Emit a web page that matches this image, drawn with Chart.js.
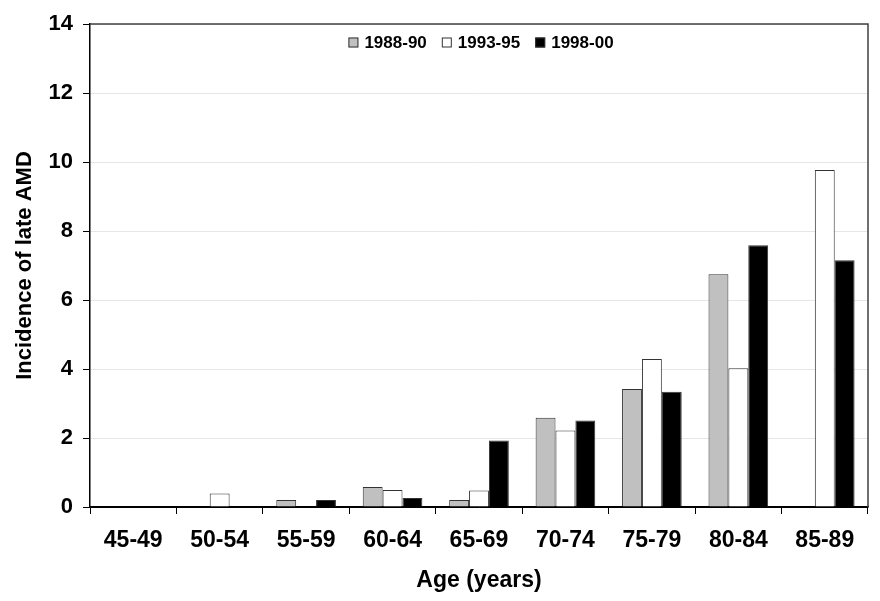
<!DOCTYPE html>
<html>
<head>
<meta charset="utf-8">
<script src="https://cdn.jsdelivr.net/npm/chart.js@4/dist/chart.umd.min.js"></script>
<style>
html,body{margin:0;padding:0;background:#fff;}
#wrap{width:880px;height:601px;position:relative;}
</style>
</head>
<body>
<div id="wrap"><canvas id="c" width="880" height="601"></canvas></div>
<script>
const categories = ["45-49","50-54","55-59","60-64","65-69","70-74","75-79","80-84","85-89"];
const seriesNames = ["1988-90","1993-95","1998-00"];
const s1988 = [0, 0, 0.20, 0.58, 0.20, 2.59, 3.42, 6.75, 0];
const s1993 = [0, 0.39, 0, 0.49, 0.48, 2.22, 4.29, 4.02, 9.77];
const s1998 = [0, 0, 0.20, 0.26, 1.93, 2.51, 3.34, 7.59, 7.15];
const yTicks = [0,2,4,6,8,10,12,14];

const FONT = '"Liberation Sans", Arial, sans-serif';

const frame = {
  id:'frame',
  afterDraw(chart){
    const a = chart.chartArea, ctx = chart.ctx;
    ctx.save();
    ctx.strokeStyle = '#404040';
    ctx.lineWidth = 1.5;
    ctx.beginPath();
    ctx.moveTo(a.left, a.top);
    ctx.lineTo(a.right, a.top);
    ctx.lineTo(a.right, a.bottom);
    ctx.stroke();
    ctx.restore();
  }
};

const insideLegend = {
  id:'insideLegend',
  afterDraw(chart){
    const a = chart.chartArea, ctx = chart.ctx;
    const ds = chart.data.datasets;
    ctx.save();
    ctx.font = 'bold 17px ' + FONT;
    const box = 10, gapText = 6, gapItem = 15;
    const widths = ds.map(d => box + gapText + ctx.measureText(d.label).width);
    const total = widths.reduce((s,w)=>s+w,0) + gapItem*(ds.length-1);
    let x = (a.left + a.right)/2 - total/2 + 2;
    const yc = a.top + 18.5;
    ctx.textBaseline = 'middle';
    ctx.textAlign = 'left';
    ds.forEach((d,i)=>{
      ctx.fillStyle = d.backgroundColor;
      ctx.fillRect(x, yc-box/2, box, box);
      ctx.strokeStyle = '#333';
      ctx.lineWidth = 1;
      ctx.strokeRect(x+0.5, yc-box/2+0.5, box-1, box-1);
      ctx.fillStyle = '#000';
      ctx.fillText(d.label, x + box + gapText, yc+1);
      x += widths[i] + gapItem;
    });
    ctx.restore();
  }
};

new Chart(document.getElementById('c'), {
  type:'bar',
  data:{
    labels:categories,
    datasets:[
      {label:seriesNames[0], data:s1988, backgroundColor:'#c0c0c0', borderColor:'#333', borderWidth:1},
      {label:seriesNames[1], data:s1993, backgroundColor:'#ffffff', borderColor:'#333', borderWidth:1},
      {label:seriesNames[2], data:s1998, backgroundColor:'#000000', borderColor:'#333', borderWidth:1}
    ]
  },
  options:{
    responsive:false,
    animation:false,
    layout:{padding:{left:0,right:12,top:24,bottom:0}},
    datasets:{bar:{barPercentage:1, categoryPercentage:0.69}},
    plugins:{
      legend:{display:false},
      tooltip:{enabled:false}
    },
    scales:{
      x:{
        grid:{display:true, drawOnChartArea:false, offset:true, tickLength:7, tickColor:'#000', color:'#000'},
        border:{color:'#000', width:1.5},
        ticks:{padding:13, color:'#000', font:{family:FONT, weight:'bold', size:23}},
        title:{display:true, text:'Age (years)', color:'#000', padding:{top:0,bottom:7}, font:{family:FONT, weight:'bold', size:23}},
        afterFit(s){ s.height = 601 - 507; }
      },
      y:{
        min:0, max:14,
        afterBuildTicks(s){ s.ticks = yTicks.map(v=>({value:v})); },
        grid:{color:(c)=> c.tick && c.tick.value===0 ? '#000' : '#e6e6e6', tickColor:'#000', tickLength:7, lineWidth:1},
        border:{color:'#000', width:1.5},
        ticks:{padding:10, color:'#000', font:{family:FONT, weight:'bold', size:22}},
        title:{display:true, text:'Incidence of late AMD', color:'#000', padding:{top:12,bottom:0}, font:{family:FONT, weight:'bold', size:22}},
        afterFit(s){ s.width = 90; }
      }
    }
  },
  plugins:[frame, insideLegend]
});
</script>
</body>
</html>
